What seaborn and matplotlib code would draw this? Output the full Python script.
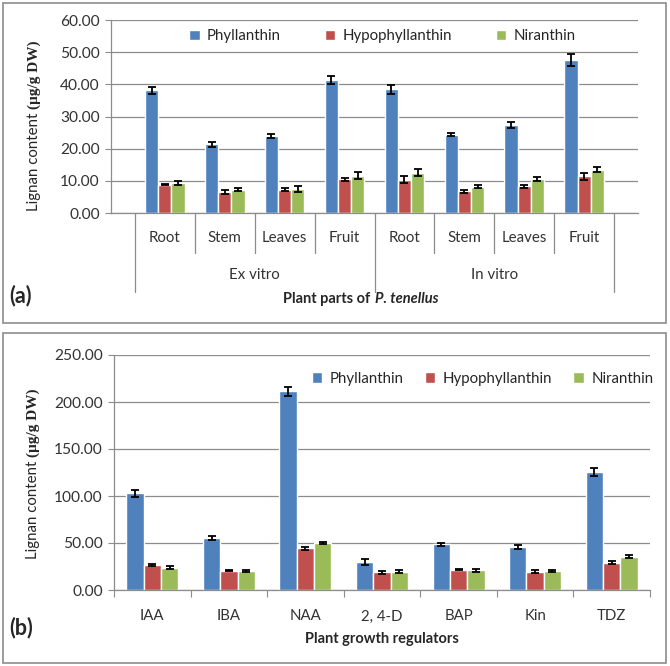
import matplotlib
matplotlib.use("Agg")
import matplotlib.pyplot as plt
import pandas as pd
import seaborn as sns
from matplotlib.patches import Rectangle

# ---- data -------------------------------------------------------------
compounds = ["Phyllanthin", "Hypophyllanthin", "Niranthin"]
colors = ["#4F81BD", "#C0504D", "#9BBB59"]

# panel (a): plant parts, ex vitro / in vitro
groups_a = ["Ex vitro", "In vitro"]
parts_a = ["Root", "Stem", "Leaves", "Fruit"]
phyl_a = [38.1, 21.3, 23.9, 41.3, 38.5, 24.4, 27.4, 47.6]
hypo_a = [8.8, 6.5, 7.2, 10.5, 10.4, 6.7, 8.3, 11.4]
nira_a = [9.2, 7.3, 7.5, 11.6, 12.5, 8.2, 10.6, 13.5]
phyl_a_err = [1.0, 0.7, 0.6, 1.3, 1.4, 0.5, 1.0, 1.8]
hypo_a_err = [0.2, 0.7, 0.5, 0.5, 1.0, 0.5, 0.4, 1.0]
nira_a_err = [0.6, 0.6, 1.0, 1.0, 1.1, 0.5, 0.6, 0.8]

# panel (b): plant growth regulators
regulators = ["IAA", "IBA", "NAA", "2, 4-D", "BAP", "Kin", "TDZ"]
phyl_b = [102.9, 55.2, 211.3, 29.6, 48.8, 45.6, 125.6]
hypo_b = [26.6, 20.7, 44.3, 18.9, 21.4, 19.6, 29.2]
nira_b = [23.9, 19.9, 50.0, 19.6, 20.8, 19.9, 35.6]
phyl_b_err = [3.5, 2.5, 5.0, 3.5, 1.5, 2.5, 4.5]
hypo_b_err = [1.2, 0.8, 1.5, 1.5, 0.5, 1.2, 1.5]
nira_b_err = [1.5, 1.0, 1.0, 1.8, 1.2, 1.0, 1.8]

sns.set_style("white")
plt.rcParams["font.family"] = ["Lato", "DejaVu Sans"]
GRAY = "#8c8c8c"

W, H = 670, 666
fig = plt.figure(figsize=(W / 100, H / 100), dpi=100)


def fx(px):
    return px / W


def fy(py):
    return 1 - py / H


def make_df(cats, vals, errs):
    rows = []
    for comp, v, e in zip(compounds, vals, errs):
        for c, vv, ee in zip(cats, v, e):
            rows.append({"cat": c, "compound": comp, "value": vv, "err": ee})
    return pd.DataFrame(rows)


def draw_bars(ax, df, cats, width):
    sns.barplot(data=df, x="cat", y="value", hue="compound", order=cats,
                hue_order=compounds, palette=colors, width=width,
                saturation=1, errorbar=None, ax=ax)
    for cont, comp in zip(ax.containers, compounds):
        sub = df[df.compound == comp].set_index("cat").loc[cats]
        xs = [b.get_x() + b.get_width() / 2 for b in cont]
        ax.errorbar(xs, sub["value"], yerr=sub["err"], fmt="none",
                    ecolor="black", elinewidth=1.3, capsize=3, capthick=1.3,
                    zorder=5)


def style_axes(ax, ymax, step):
    ax.set_ylim(0, ymax)
    ax.set_yticks(range(0, ymax + 1, step))
    ax.set_yticklabels([f"{v:.2f}" for v in range(0, ymax + 1, step)],
                       fontsize=11.2, color="#333333")
    ax.yaxis.grid(True, color=GRAY, lw=0.9)
    ax.set_axisbelow(True)
    for s in ["top", "right"]:
        ax.spines[s].set_visible(False)
    for s in ["left", "bottom"]:
        ax.spines[s].set_color(GRAY)
        ax.spines[s].set_linewidth(0.9)
    ax.tick_params(axis="y", left=True, length=4, color=GRAY, pad=4)
    ax.set_xlabel("")
    ax.set_ylabel("")


def ylabel(x, ysplit):
    fig.text(fx(x), fy(ysplit), "Lignan content ", rotation=90, ha="center",
             va="top", fontsize=10.8)
    fig.text(fx(x) + 0.001, fy(ysplit), "(µg/g DW)", rotation=90,
             ha="center", va="bottom", fontsize=11, fontweight="bold",
             family=["Liberation Serif", "DejaVu Serif"])


# ---- panel borders ----------------------------------------------------
for top, bot in [(3, 323), (333, 663)]:
    fig.patches.append(Rectangle((fx(3), fy(bot)), fx(663), fy(top) - fy(bot),
                                 transform=fig.transFigure, fill=False,
                                 edgecolor=GRAY, lw=1.2))

# ---- panel (a) ----------------------------------------------------------
cats_a = [f"{g} {p}" for g in groups_a for p in parts_a]
df_a = make_df(cats_a, [phyl_a, hypo_a, nira_a], [phyl_a_err, hypo_a_err, nira_a_err])
ax1 = fig.add_axes([fx(111), fy(213), fx(638 - 111), fy(20) - fy(213)])
draw_bars(ax1, df_a, cats_a, 0.66)
style_axes(ax1, 60, 10)
ax1.set_xticks(range(len(cats_a)))
ax1.set_xticklabels([p for g in groups_a for p in parts_a], fontsize=10.8,
                    color="#333333")
ax1.tick_params(axis="x", length=0, pad=13)
tr = ax1.get_xaxis_transform()
for i in range(len(cats_a) + 1):
    long = i % len(parts_a) == 0
    ax1.plot([i - 0.5, i - 0.5], [0, -0.41 if long else -0.205], color=GRAY,
             lw=0.9, transform=tr, clip_on=False)
for j, g in enumerate(groups_a):
    ax1.text(j * len(parts_a) + (len(parts_a) - 1) / 2, -0.32, g,
             transform=tr, ha="center", va="center", fontsize=10.8,
             color="#333333")
ax1.legend(loc="center", bbox_to_anchor=(0.515, 0.917), ncol=3,
           frameon=False, fontsize=10.8, handlelength=0.7, handleheight=0.7,
           handletextpad=0.5, columnspacing=2.9)
fig.text(fx(374), fy(299), "Plant parts of ", ha="right", va="center",
         fontsize=10.5, fontweight="bold")
fig.text(fx(375), fy(299), "P. tenellus", ha="left", va="center",
         fontsize=10.5, fontweight="bold", style="italic")
fig.text(fx(9), fy(296), "(a)", ha="left", va="center", fontsize=15.5,
         fontweight="bold")
ylabel(34, 109)

# ---- panel (b) ----------------------------------------------------------
df_b = make_df(regulators, [phyl_b, hypo_b, nira_b], [phyl_b_err, hypo_b_err, nira_b_err])
ax2 = fig.add_axes([fx(114), fy(590), fx(650 - 114), fy(355) - fy(590)])
draw_bars(ax2, df_b, regulators, 0.68)
style_axes(ax2, 250, 50)
n = len(regulators)
ax2.set_xticks([i - 0.5 for i in range(n + 1)])
ax2.set_xticklabels([])
ax2.tick_params(axis="x", which="major", bottom=True, length=5, color=GRAY)
ax2.set_xticks(range(n), minor=True)
ax2.set_xticklabels(regulators, minor=True, fontsize=10.8, color="#333333")
ax2.tick_params(axis="x", which="minor", bottom=True, length=0, pad=14)
ax2.set_xlim(-0.5, n - 0.5)
ax2.legend(loc="center", bbox_to_anchor=(0.688, 0.898), ncol=3,
           frameon=False, fontsize=10.8, handlelength=0.7, handleheight=0.7,
           handletextpad=0.5, columnspacing=1.4)
fig.text(fx(382), fy(639), "Plant growth regulators", ha="center",
         va="center", fontsize=10.5, fontweight="bold")
fig.text(fx(9), fy(628), "(b)", ha="left", va="center", fontsize=15.5,
         fontweight="bold")
ylabel(33, 457)

fig.savefig("out.png", dpi=100)
